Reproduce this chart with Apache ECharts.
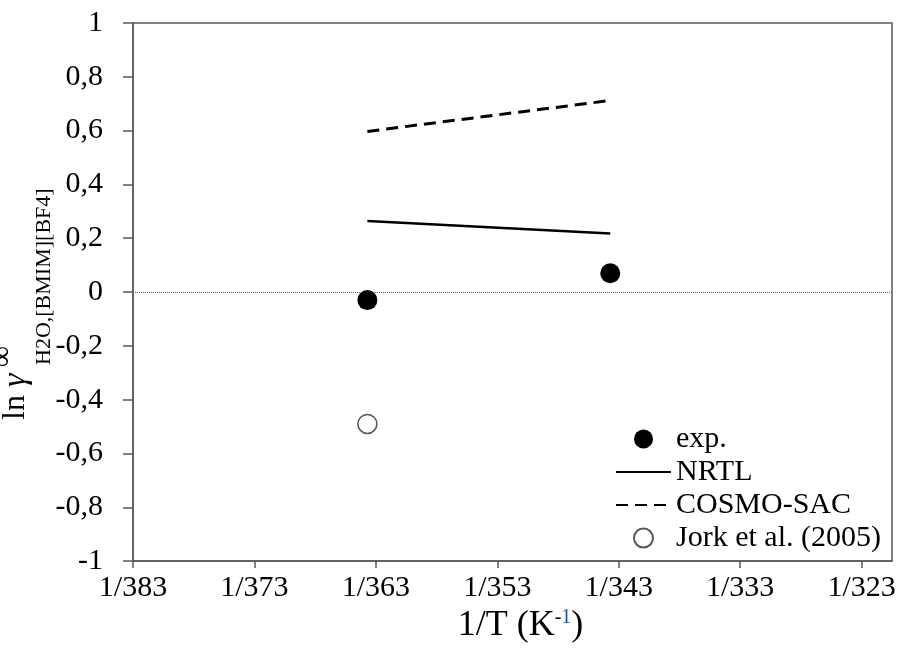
<!DOCTYPE html>
<html>
<head>
<meta charset="utf-8">
<script src="https://cdn.jsdelivr.net/npm/echarts@6/dist/echarts.min.js"></script>
<style>
  html, body { margin: 0; padding: 0; background: #fff; }
  #chart { width: 917px; height: 649px; }
</style>
</head>
<body>
<div id="chart"></div>
<script>
// Temperatures (K) of the measured / modelled points
const temps = [363.7, 343.7];
// ln gamma_inf of water in [BMIM][BF4]
const expValues = [-0.03, 0.07];
const nrtlValues = [0.264, 0.218];
const cosmoValues = [0.597, 0.712];
const jorkTemps = [363.7];
const jorkValues = [-0.49];
// Temperatures shown as 1/T tick labels
const xTickTemps = [383, 373, 363, 353, 343, 333, 323];

const serif = '"Liberation Serif", "Times New Roman", serif';
const axisGray = '#5a5a5a';

const pairs = (xs, ys) => xs.map((x, i) => [x, ys[i]]);

const chart = echarts.init(document.getElementById('chart'), null, { renderer: 'canvas' });

chart.setOption({
  animation: false,
  backgroundColor: '#fff',
  grid: {
    left: 133, right: 25, top: 23, bottom: 86,
    show: true, borderColor: axisGray, borderWidth: 1.5, backgroundColor: 'transparent'
  },
  xAxis: {
    type: 'value',
    inverse: true,
    min: 320.5,
    max: 383,
    axisLine: { show: true, onZero: false, lineStyle: { color: axisGray, width: 1.5 } },
    axisTick: { show: true, inside: false, length: 7, customValues: xTickTemps, lineStyle: { color: axisGray, width: 1.5 } },
    axisLabel: {
      customValues: xTickTemps,
      formatter: v => '1/' + Math.round(v),
      fontFamily: serif, fontSize: 30, color: '#000', margin: 12
    },
    splitLine: { show: false },
    name: '1/T (K{sup|-}{supb|1})',
    nameLocation: 'middle',
    nameGap: 40,
    nameTextStyle: {
      fontFamily: serif, fontSize: 36, color: '#000', padding: [0, 0, 0, 16],
      rich: {
        sup: { fontFamily: serif, fontSize: 20, color: '#000', verticalAlign: 'top', padding: [0, 0, 14, 0] },
        supb: { fontFamily: serif, fontSize: 20, color: '#1f4f9f', verticalAlign: 'top', padding: [0, 0, 14, 0] }
      }
    }
  },
  yAxis: {
    type: 'value',
    min: -1,
    max: 1,
    interval: 0.2,
    axisLine: { show: true, onZero: false, lineStyle: { color: axisGray, width: 1.5 } },
    axisTick: { show: true, inside: false, length: 10, lineStyle: { color: axisGray, width: 1.5 } },
    axisLabel: {
      formatter: v => {
        const r = Math.round(v * 10) / 10;
        return r === 0 ? '0' : String(r).replace('.', ',');
      },
      fontFamily: serif, fontSize: 30, color: '#000', margin: 30
    },
    splitLine: { show: false }
  },
  legend: {
    orient: 'vertical',
    left: 610,
    top: 419,
    itemWidth: 55,
    itemHeight: 19,
    itemGap: 3,
    textStyle: { fontFamily: serif, fontSize: 30, color: '#000' },
    data: [
      { name: 'exp.' },
      { name: 'NRTL', itemStyle: { opacity: 0 } },
      { name: 'COSMO-SAC', itemStyle: { opacity: 0 } },
      { name: 'Jork et al. (2005)' }
    ]
  },
  series: [
    {
      name: 'exp.',
      type: 'scatter',
      data: pairs(temps, expValues),
      symbol: 'circle',
      symbolSize: 20,
      itemStyle: { color: '#000', opacity: 1 },
      z: 5
    },
    {
      name: 'NRTL',
      type: 'line',
      data: pairs(temps, nrtlValues),
      showSymbol: false,
      symbol: 'none',
      lineStyle: { color: '#000', width: 2.5, type: 'solid' },
      itemStyle: { color: '#000' },
      markLine: {
        silent: true,
        symbol: 'none',
        label: { show: false },
        lineStyle: { color: '#555', width: 1, type: 'dotted' },
        data: [{ yAxis: 0 }]
      }
    },
    {
      name: 'COSMO-SAC',
      type: 'line',
      data: pairs(temps, cosmoValues),
      showSymbol: false,
      symbol: 'none',
      lineStyle: { color: '#000', width: 3, type: [12, 7] },
      itemStyle: { color: '#000' }
    },
    {
      name: 'Jork et al. (2005)',
      type: 'scatter',
      data: pairs(jorkTemps, jorkValues),
      symbol: 'circle',
      symbolSize: 19,
      itemStyle: { color: '#fff', borderColor: '#555', borderWidth: 1.5, opacity: 1 },
      z: 5
    }
  ],
  graphic: [
    {
      type: 'group',
      x: 33,
      y: 420,
      rotation: Math.PI / 2,
      children: [
        {
          type: 'text',
          x: 0, y: 0,
          style: {
            text: 'ln {g|γ}',
            fontFamily: serif, fontSize: 32, fill: '#000',
            verticalAlign: 'bottom', align: 'left',
            rich: { g: { fontFamily: serif, fontSize: 34, fontStyle: 'italic', fill: '#000' } }
          }
        },
        {
          type: 'text',
          x: 53, y: -15,
          style: {
            text: '∞', fontFamily: serif, fontSize: 29, fill: '#000',
            verticalAlign: 'bottom', align: 'left'
          }
        },
        {
          type: 'text',
          x: 55, y: 22,
          style: {
            text: 'H2O,[BMIM][BF4]', fontFamily: serif, fontSize: 22, fill: '#000',
            verticalAlign: 'bottom', align: 'left'
          }
        }
      ]
    }
  ]
});
</script>
</body>
</html>
